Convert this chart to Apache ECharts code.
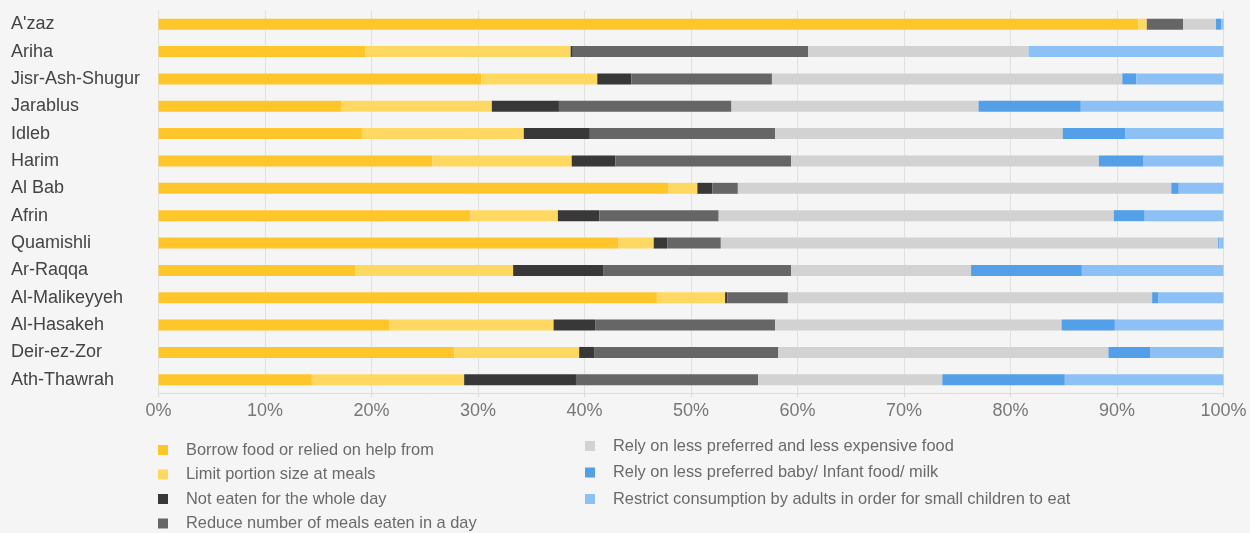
<!DOCTYPE html>
<html>
<head>
<meta charset="utf-8">
<script src="https://cdn.jsdelivr.net/npm/echarts@6/dist/echarts.min.js"></script>
<style>
html,body{margin:0;padding:0;background:#f5f5f5;}
#chart{width:1250px;height:533px;}
</style>
</head>
<body>
<div id="chart"></div>
<script>
const categories = ["A'zaz","Ariha","Jisr-Ash-Shugur","Jarablus","Idleb","Harim","Al Bab","Afrin","Quamishli","Ar-Raqqa","Al-Malikeyyeh","Al-Hasakeh","Deir-ez-Zor","Ath-Thawrah"];
const seriesNames = [
  "Borrow food or relied on help from",
  "Limit portion size at meals",
  "Not eaten for the whole day",
  "Reduce number of meals eaten in a day",
  "Rely on less preferred and less expensive food",
  "Rely on less preferred baby/ Infant food/ milk",
  "Restrict consumption by adults in order for small children to eat"
];
const borrowFood   = [92.0, 19.4, 30.3, 17.2, 19.1, 25.7, 47.9, 29.3, 43.2, 18.5, 46.8, 21.7, 27.8, 14.4];
const limitPortion = [0.8, 19.3, 10.9, 14.1, 15.2, 13.1, 2.7, 8.2, 3.3, 14.8, 6.4, 15.4, 11.7, 14.3];
const notEaten     = [0.0, 0.2, 3.2, 6.3, 6.2, 4.1, 1.4, 3.9, 1.3, 8.5, 0.2, 3.9, 1.4, 10.5];
const reduceMeals  = [3.4, 22.1, 13.2, 16.2, 17.4, 16.5, 2.4, 11.2, 5.0, 17.6, 5.7, 16.9, 17.3, 17.1];
const relyCheaper  = [3.1, 20.7, 32.9, 23.2, 27.0, 28.9, 40.7, 37.1, 46.7, 16.9, 34.2, 26.9, 31.0, 17.3];
const relyBaby     = [0.5, 0.0, 1.3, 9.6, 5.9, 4.2, 0.7, 2.9, 0.1, 10.4, 0.6, 5.0, 3.9, 11.5];
const restrictAdults = [0.2, 18.4, 8.2, 13.4, 9.2, 7.6, 4.2, 7.4, 0.4, 13.3, 6.1, 10.2, 6.9, 14.9];
const xTicks = [0,10,20,30,40,50,60,70,80,90,100];

const seriesValues = [borrowFood, limitPortion, notEaten, reduceMeals, relyCheaper, relyBaby, restrictAdults];
const colors = ['#ffc62c','#ffd862','#383838','#666666','#d2d2d2','#539fe8','#8dc1f6'];

const chart = echarts.init(document.getElementById('chart'), null, {renderer:'canvas'});
const iconPath = 'path://M0,0h10v10h-10zM23,10';
const legendText = {fontFamily:'Liberation Sans', fontSize:16.4, color:'#6a6a6a'};
const option = {
  backgroundColor:'#f5f5f5',
  animation:false,
  color: colors,
  grid:{left:158.5, right:26.5, top:10.5, bottom:139.5, containLabel:false},
  legend:[
    {data:seriesNames.slice(0,4), orient:'vertical', left:158, top:442, height:120, padding:0, itemWidth:23, itemHeight:10, itemGap:8.5, icon:iconPath, textStyle:legendText, selectedMode:false},
    {data:seriesNames.slice(4), orient:'vertical', left:585, top:438, height:120, padding:0, itemWidth:23, itemHeight:10, itemGap:10.5, icon:iconPath, textStyle:legendText, selectedMode:false}
  ],
  xAxis:{
    type:'value', min:xTicks[0], max:xTicks[xTicks.length-1], interval:10,
    axisLine:{show:true, lineStyle:{color:'#dcdcdc', width:1}},
    axisTick:{show:true, length:4, lineStyle:{color:'#dcdcdc'}},
    splitLine:{show:true, lineStyle:{color:'#e0e0e0', width:1}},
    axisLabel:{formatter:'{value}%', fontFamily:'Liberation Sans', fontSize:18, color:'#777', margin:9}
  },
  yAxis:{
    type:'category', data:categories, inverse:true,
    axisLine:{show:false}, axisTick:{show:false},
    axisLabel:{align:'left', margin:147.5, fontFamily:'Liberation Sans', fontSize:18, color:'#444'}
  },
  series: seriesNames.map((n,i)=>({
    name:n, type:'bar', stack:'total', barWidth:11,
    data: seriesValues[i],
    itemStyle:{color:colors[i]}
  }))
};
chart.setOption(option);
</script>
</body>
</html>
